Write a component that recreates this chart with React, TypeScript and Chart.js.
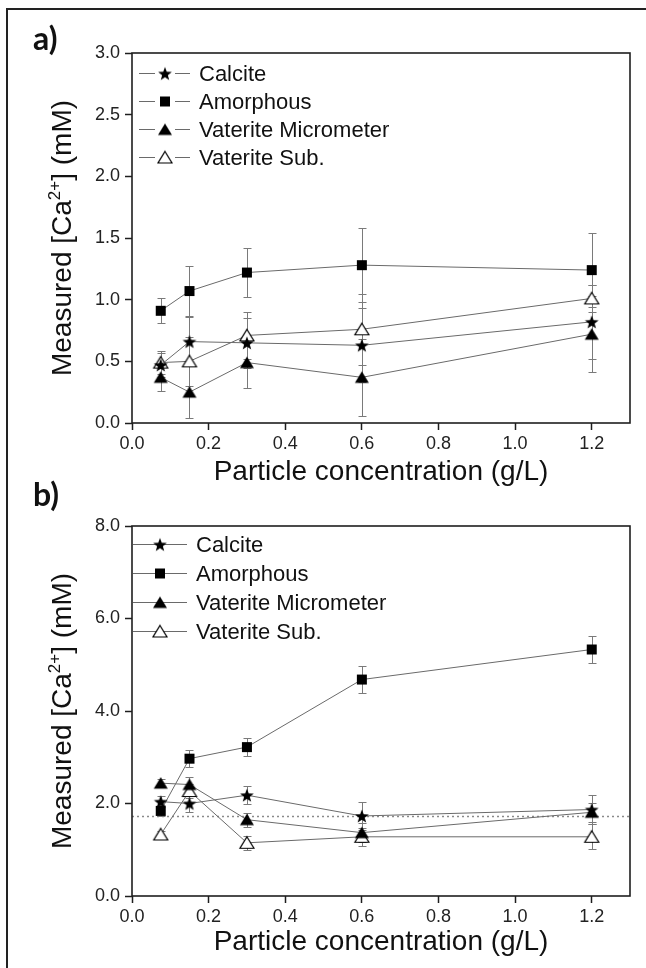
import React, { useEffect, useRef } from "react";
import { Chart, registerables } from "chart.js";

Chart.register(...registerables);

// ---------- data ----------
const X_VALUES = [0.075, 0.15, 0.3, 0.6, 1.2];
const SERIES_NAMES = ["Calcite", "Amorphous", "Vaterite Micrometer", "Vaterite Sub."];
const MARKERS = ["star", "square", "tri", "openTri"];

const A_CALCITE = [0.47, 0.66, 0.65, 0.63, 0.82];
const A_CALCITE_ERR = [0.1, 0.2, 0.2, 0.3, 0.3];
const A_AMORPHOUS = [0.91, 1.07, 1.22, 1.28, 1.24];
const A_AMORPHOUS_ERR = [0.1, 0.2, 0.2, 0.3, 0.3];
const A_VAT_MICRO = [0.37, 0.25, 0.49, 0.37, 0.72];
const A_VAT_MICRO_ERR = [0.11, 0.21, 0.21, 0.31, 0.31];
const A_VAT_SUB = [0.49, 0.5, 0.71, 0.76, 1.01];
const A_VAT_SUB_ERR = [0.09, 0.2, 0.19, 0.29, 0.11];

const B_CALCITE = [2.04, 2.0, 2.18, 1.73, 1.87];
const B_CALCITE_ERR = [0.12, 0.18, 0.19, 0.3, 0.32];
const B_AMORPHOUS = [1.84, 2.97, 3.22, 4.68, 5.33];
const B_AMORPHOUS_ERR = [0.12, 0.18, 0.19, 0.3, 0.29];
const B_VAT_MICRO = [2.44, 2.41, 1.65, 1.37, 1.81];
const B_VAT_MICRO_ERR = [0.08, 0.16, 0.15, 0.2, 0.2];
const B_VAT_SUB = [1.33, 2.27, 1.15, 1.28, 1.28];
const B_VAT_SUB_ERR = [0.08, 0.15, 0.15, 0.2, 0.27];
const B_REF_LINE = 1.73;

const X_TICKS = [0, 0.2, 0.4, 0.6, 0.8, 1.0, 1.2];
const X_RANGE = [0, 1.3];
const A_Y_TICKS = [0, 0.5, 1.0, 1.5, 2.0, 2.5, 3.0];
const A_Y_RANGE = [0, 3];
const B_Y_TICKS = [0, 2, 4, 6, 8];
const B_Y_RANGE = [0, 8];

const X_TITLE = "Particle concentration (g/L)";
const Y_TITLE_PARTS = ["Measured [Ca", "2+", "] (mM)"];

// ---------- styling ----------
const FONT = '"Liberation Sans", Arial, Helvetica, sans-serif';
const LINE_COLOR = "#6a6a6a";
const ERR_COLOR = "#7a7a7a";
const AXIS_COLOR = "#1e1e1e";

function makeMarker(kind: string): HTMLCanvasElement {
  const c = document.createElement("canvas");
  const s = 18;
  c.width = s;
  c.height = s;
  const g = c.getContext("2d")!;
  const cx = s / 2;
  const cy = s / 2;
  g.fillStyle = "#000";
  g.strokeStyle = "#000";
  g.lineWidth = 1.2;
  if (kind === "star") {
    g.beginPath();
    for (let i = 0; i < 10; i++) {
      const r = i % 2 === 0 ? 7.2 : 3.0;
      const a = -Math.PI / 2 + (i * Math.PI) / 5;
      g.lineTo(cx + r * Math.cos(a), cy + 0.8 + r * Math.sin(a));
    }
    g.closePath();
    g.fill();
  } else if (kind === "square") {
    g.fillRect(cx - 5, cy - 5, 10, 10);
  } else {
    g.beginPath();
    g.moveTo(cx, cy - 6);
    g.lineTo(cx + 7, cy + 5.5);
    g.lineTo(cx - 7, cy + 5.5);
    g.closePath();
    if (kind === "tri") {
      g.fill();
    } else {
      g.fillStyle = "#fff";
      g.fill();
      g.stroke();
    }
  }
  return c;
}

type LegendCfg = {
  rowStart: number;
  rowGap: number;
  lineL: number;
  lineR: number;
  markerX: number;
  textX: number;
  gap: number;
};

type PanelProps = {
  series: number[][];
  errors: number[][];
  yTicks: number[];
  yRange: number[];
  refLine?: number;
  top: number;
  height: number;
  padTop: number;
  padBottom: number;
  xAxisH: number;
  legend: LegendCfg;
};

function Panel(props: PanelProps) {
  const ref = useRef<HTMLCanvasElement | null>(null);
  useEffect(() => {
    const canvas = ref.current!;
    const markers = MARKERS.map(makeMarker);
    const { series, errors, yTicks, yRange, refLine, legend } = props;

    const errorPlugin = {
      id: "errBars",
      beforeDatasetsDraw(chart: any) {
        const { ctx, scales } = chart;
        const xs = scales.x;
        const ys = scales.y;
        ctx.save();
        if (refLine !== undefined) {
          const py = Math.round(ys.getPixelForValue(refLine)) + 0.5;
          ctx.strokeStyle = "#8a8a8a";
          ctx.lineWidth = 1.3;
          ctx.setLineDash([2, 3]);
          ctx.beginPath();
          ctx.moveTo(chart.chartArea.left, py);
          ctx.lineTo(chart.chartArea.right, py);
          ctx.stroke();
          ctx.setLineDash([]);
        }
        ctx.strokeStyle = ERR_COLOR;
        ctx.lineWidth = 1;
        series.forEach((vals, si) => {
          vals.forEach((v, i) => {
            const e = errors[si][i];
            const px = Math.round(xs.getPixelForValue(X_VALUES[i])) + 0.5;
            const y1 = Math.round(ys.getPixelForValue(v - e)) + 0.5;
            const y2 = Math.round(ys.getPixelForValue(v + e)) + 0.5;
            ctx.beginPath();
            ctx.moveTo(px, y1);
            ctx.lineTo(px, y2);
            ctx.moveTo(px - 4, y1);
            ctx.lineTo(px + 4, y1);
            ctx.moveTo(px - 4, y2);
            ctx.lineTo(px + 4, y2);
            ctx.stroke();
          });
        });
        ctx.restore();
      },
    };

    const decorPlugin = {
      id: "decor",
      afterDraw(chart: any) {
        const { ctx, chartArea } = chart;
        const { left, right, top, bottom } = chartArea;
        ctx.save();
        ctx.strokeStyle = AXIS_COLOR;
        ctx.lineWidth = 1.6;
        ctx.strokeRect(left, top, right - left, bottom - top);

        ctx.font = `22px ${FONT}`;
        ctx.textBaseline = "middle";
        ctx.textAlign = "left";
        SERIES_NAMES.forEach((name, i) => {
          const y = Math.round(top + legend.rowStart + i * legend.rowGap) + 0.5;
          ctx.strokeStyle = LINE_COLOR;
          ctx.lineWidth = 1;
          ctx.beginPath();
          if (legend.gap > 0) {
            ctx.moveTo(left + legend.lineL, y);
            ctx.lineTo(left + legend.markerX - legend.gap, y);
            ctx.moveTo(left + legend.markerX + legend.gap, y);
            ctx.lineTo(left + legend.lineR, y);
          } else {
            ctx.moveTo(left + legend.lineL, y);
            ctx.lineTo(left + legend.lineR, y);
          }
          ctx.stroke();
          const m = markers[i];
          ctx.drawImage(m, left + legend.markerX - m.width / 2, y - m.height / 2);
          ctx.fillStyle = "#111";
          ctx.fillText(name, left + legend.textX, y + 1);
        });

        const cy = (top + bottom) / 2;
        ctx.translate(71, cy);
        ctx.rotate(-Math.PI / 2);
        const big = `28px ${FONT}`;
        const small = `17px ${FONT}`;
        const fonts = [big, small, big];
        const offs = [0, -11, 0];
        let total = 0;
        const widths = Y_TITLE_PARTS.map((t, k) => {
          ctx.font = fonts[k];
          const w = ctx.measureText(t).width;
          total += w;
          return w;
        });
        let x = -total / 2;
        ctx.textBaseline = "alphabetic";
        ctx.fillStyle = "#111";
        Y_TITLE_PARTS.forEach((t, k) => {
          ctx.font = fonts[k];
          ctx.fillText(t, x, offs[k]);
          x += widths[k];
        });
        ctx.restore();
      },
    };

    const chart = new Chart(canvas, {
      type: "line",
      data: {
        datasets: series.map((vals, si) => ({
          label: SERIES_NAMES[si],
          data: vals.map((v, i) => ({ x: X_VALUES[i], y: v })),
          borderColor: LINE_COLOR,
          borderWidth: 1,
          pointStyle: markers[si] as any,
          pointRadius: 7,
          fill: false,
          tension: 0,
        })),
      },
      options: {
        responsive: false,
        animation: false,
        devicePixelRatio: 1,
        layout: { padding: { top: props.padTop, right: 16, bottom: props.padBottom, left: 0 } },
        plugins: { legend: { display: false }, tooltip: { enabled: false } },
        scales: {
          x: {
            type: "linear",
            min: X_RANGE[0],
            max: X_RANGE[1],
            afterBuildTicks: (s: any) => {
              s.ticks = X_TICKS.map((v) => ({ value: v }));
            },
            afterFit: (s: any) => {
              s.height = props.xAxisH;
            },
            grid: {
              display: true,
              drawOnChartArea: false,
              drawTicks: true,
              tickLength: 7,
              tickWidth: 1.5,
              tickColor: AXIS_COLOR,
            },
            border: { display: false },
            ticks: {
              padding: 3,
              color: "#222",
              maxRotation: 0,
              font: { family: FONT, size: 18 },
              callback: (v: any) => Number(v).toFixed(1),
            },
            title: {
              display: true,
              text: X_TITLE,
              color: "#111",
              font: { family: FONT, size: 28 },
              padding: 0,
            },
          },
          y: {
            type: "linear",
            min: yRange[0],
            max: yRange[1],
            afterBuildTicks: (s: any) => {
              s.ticks = yTicks.map((v) => ({ value: v }));
            },
            afterFit: (s: any) => {
              s.width = 132;
            },
            grid: {
              display: true,
              drawOnChartArea: false,
              drawTicks: true,
              tickLength: 7,
              tickWidth: 1.5,
              tickColor: AXIS_COLOR,
            },
            border: { display: false },
            ticks: {
              padding: 5,
              color: "#222",
              font: { family: FONT, size: 18 },
              callback: (v: any) => Number(v).toFixed(1),
            },
          },
        },
      },
      plugins: [errorPlugin, decorPlugin],
    } as any);
    return () => chart.destroy();
  }, []);

  return (
    <canvas
      ref={ref}
      width={646}
      height={props.height}
      style={{ position: "absolute", left: 0, top: props.top, width: 646, height: props.height }}
    />
  );
}

const LABEL_STYLE: React.CSSProperties = {
  position: "absolute",
  left: 33,
  font: "bold 32px Lato, 'Open Sans', sans-serif",
  lineHeight: "32px",
  color: "#111",
  whiteSpace: "nowrap",
};

export default function App() {
  return (
    <div
      style={{
        position: "absolute",
        left: 0,
        top: 0,
        width: 646,
        height: 968,
        overflow: "hidden",
        background: "#fff",
      }}
    >
      <Panel
        series={[A_CALCITE, A_AMORPHOUS, A_VAT_MICRO, A_VAT_SUB]}
        errors={[A_CALCITE_ERR, A_AMORPHOUS_ERR, A_VAT_MICRO_ERR, A_VAT_SUB_ERR]}
        yTicks={A_Y_TICKS}
        yRange={A_Y_RANGE}
        top={0}
        height={489}
        padTop={53}
        padBottom={0}
        xAxisH={66}
        legend={{ rowStart: 20, rowGap: 28, lineL: 7, lineR: 58, markerX: 33, textX: 67, gap: 10 }}
      />
      <Panel
        series={[B_CALCITE, B_AMORPHOUS, B_VAT_MICRO, B_VAT_SUB]}
        errors={[B_CALCITE_ERR, B_AMORPHOUS_ERR, B_VAT_MICRO_ERR, B_VAT_SUB_ERR]}
        yTicks={B_Y_TICKS}
        yRange={B_Y_RANGE}
        refLine={B_REF_LINE}
        top={489}
        height={479}
        padTop={37}
        padBottom={9}
        xAxisH={63}
        legend={{ rowStart: 18, rowGap: 29, lineL: 1, lineR: 55, markerX: 28, textX: 64, gap: 0 }}
      />
      <div
        style={{
          position: "absolute",
          left: 6,
          top: 8,
          width: 660,
          height: 980,
          borderLeft: "2px solid #222",
          borderTop: "2px solid #222",
          pointerEvents: "none",
        }}
      />
      <div style={{ ...LABEL_STYLE, top: 22 }}>a)</div>
      <div style={{ ...LABEL_STYLE, top: 478 }}>b)</div>
    </div>
  );
}
